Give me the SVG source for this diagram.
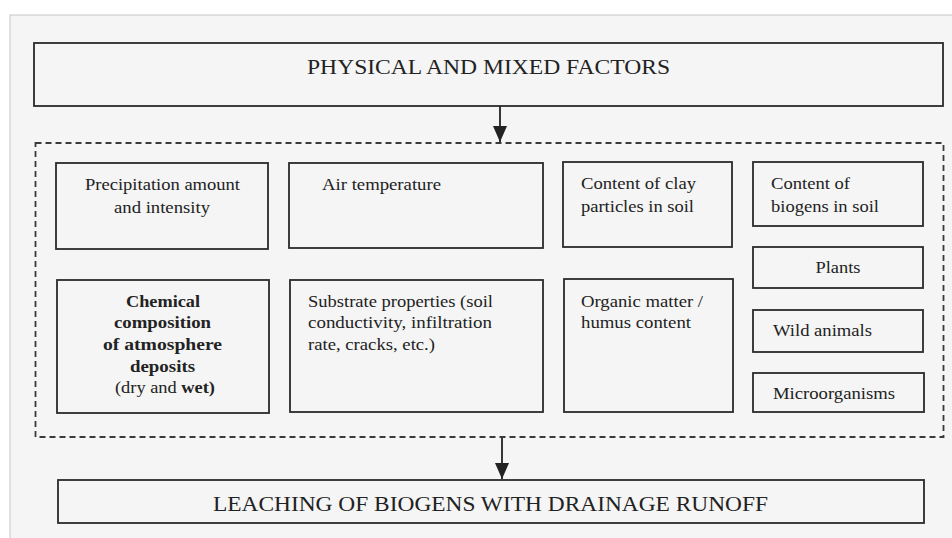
<svg xmlns="http://www.w3.org/2000/svg" width="952" height="538" viewBox="0 0 952 538">
<style>
.box{fill:none;stroke:#2b2b2b;stroke-width:1.8}
.dash{fill:none;stroke:#3a3a3a;stroke-width:1.8;stroke-dasharray:6 4}
.t{font-family:"Liberation Serif","Times New Roman",serif;font-size:16px;fill:#222}
.b{font-weight:bold}
.h{font-family:"Liberation Serif","Times New Roman",serif;font-size:20px;fill:#222}
.c{text-anchor:middle}
.con{stroke:#222;stroke-width:1.8;fill:none}
</style>
<defs>
<marker id="ah" markerUnits="userSpaceOnUse" markerWidth="16" markerHeight="14" viewBox="0 0 16 14" refX="16" refY="7" orient="auto">
<path d="M0,0 L16,7 L0,14 Z" fill="#222"/>
</marker>
</defs>
<rect x="0" y="0" width="952" height="538" fill="#ffffff"/>
<rect x="10" y="15" width="950" height="530" fill="#f5f5f5" stroke="#cfcfcf" stroke-width="1.2"/>

<g id="top">
<rect class="box" x="34" y="43" width="909" height="63"/>
<text class="h c" x="488.5" y="74" textLength="363" lengthAdjust="spacingAndGlyphs">PHYSICAL AND MIXED FACTORS</text>
</g>

<g id="container">
<rect class="dash" x="35.5" y="143" width="908" height="294"/>
</g>

<g id="precipitation">
<rect class="box" x="56" y="163" width="212" height="86"/>
<text class="t c" x="162.5" y="190" textLength="155" lengthAdjust="spacingAndGlyphs">Precipitation amount</text>
<text class="t c" x="162" y="213" textLength="96" lengthAdjust="spacingAndGlyphs">and intensity</text>
</g>

<g id="air">
<rect class="box" x="289" y="163" width="254" height="85"/>
<text class="t" x="322" y="190" textLength="119" lengthAdjust="spacingAndGlyphs">Air temperature</text>
</g>

<g id="clay">
<rect class="box" x="563" y="162" width="169" height="85"/>
<text class="t" x="581" y="189" textLength="115" lengthAdjust="spacingAndGlyphs">Content of clay</text>
<text class="t" x="581" y="212" textLength="113" lengthAdjust="spacingAndGlyphs">particles in soil</text>
</g>

<g id="biogens">
<rect class="box" x="753" y="162" width="170" height="64"/>
<text class="t" x="771" y="189" textLength="79" lengthAdjust="spacingAndGlyphs">Content of</text>
<text class="t" x="771" y="212" textLength="108" lengthAdjust="spacingAndGlyphs">biogens in soil</text>
</g>

<g id="plants">
<rect class="box" x="753" y="247" width="170" height="41"/>
<text class="t c" x="838" y="273" textLength="45" lengthAdjust="spacingAndGlyphs">Plants</text>
</g>

<g id="chemical">
<rect class="box" x="57" y="280" width="212" height="133"/>
<text class="t b c" x="163" y="307" textLength="74" lengthAdjust="spacingAndGlyphs">Chemical</text>
<text class="t b c" x="162.5" y="328" textLength="97" lengthAdjust="spacingAndGlyphs">composition</text>
<text class="t b c" x="162.5" y="350" textLength="119" lengthAdjust="spacingAndGlyphs">of  atmosphere</text>
<text class="t b c" x="162.5" y="372" textLength="65" lengthAdjust="spacingAndGlyphs">deposits</text>
<text class="t c" x="165" y="393" textLength="100" lengthAdjust="spacingAndGlyphs">(dry and <tspan class="b">wet)</tspan></text>
</g>

<g id="substrate">
<rect class="box" x="290" y="280" width="253" height="132"/>
<text class="t" x="308" y="307" textLength="185" lengthAdjust="spacingAndGlyphs">Substrate properties (soil</text>
<text class="t" x="308" y="328" textLength="184" lengthAdjust="spacingAndGlyphs">conductivity, infiltration</text>
<text class="t" x="308" y="350" textLength="127" lengthAdjust="spacingAndGlyphs">rate, cracks, etc.)</text>
</g>

<g id="organic">
<rect class="box" x="564" y="279" width="169" height="133"/>
<text class="t" x="581" y="307" textLength="122" lengthAdjust="spacingAndGlyphs">Organic matter /</text>
<text class="t" x="581" y="328" textLength="110" lengthAdjust="spacingAndGlyphs">humus content</text>
</g>

<g id="wild">
<rect class="box" x="753" y="310" width="170" height="42"/>
<text class="t" x="773" y="336" textLength="99" lengthAdjust="spacingAndGlyphs">Wild animals</text>
</g>

<g id="micro">
<rect class="box" x="753" y="373" width="171" height="39"/>
<text class="t" x="773" y="399" textLength="122" lengthAdjust="spacingAndGlyphs">Microorganisms</text>
</g>

<g id="bottom">
<rect class="box" x="58" y="480" width="866" height="43"/>
<text class="h c" x="490.5" y="511" style="font-size:21.5px" textLength="555" lengthAdjust="spacingAndGlyphs">LEACHING OF BIOGENS WITH DRAINAGE RUNOFF</text>
</g>

<g id="connectors">
<line class="con" x1="500" y1="106" x2="500" y2="142" marker-end="url(#ah)"/>
<line class="con" x1="502" y1="438" x2="502" y2="479" marker-end="url(#ah)"/>
</g>
</svg>
